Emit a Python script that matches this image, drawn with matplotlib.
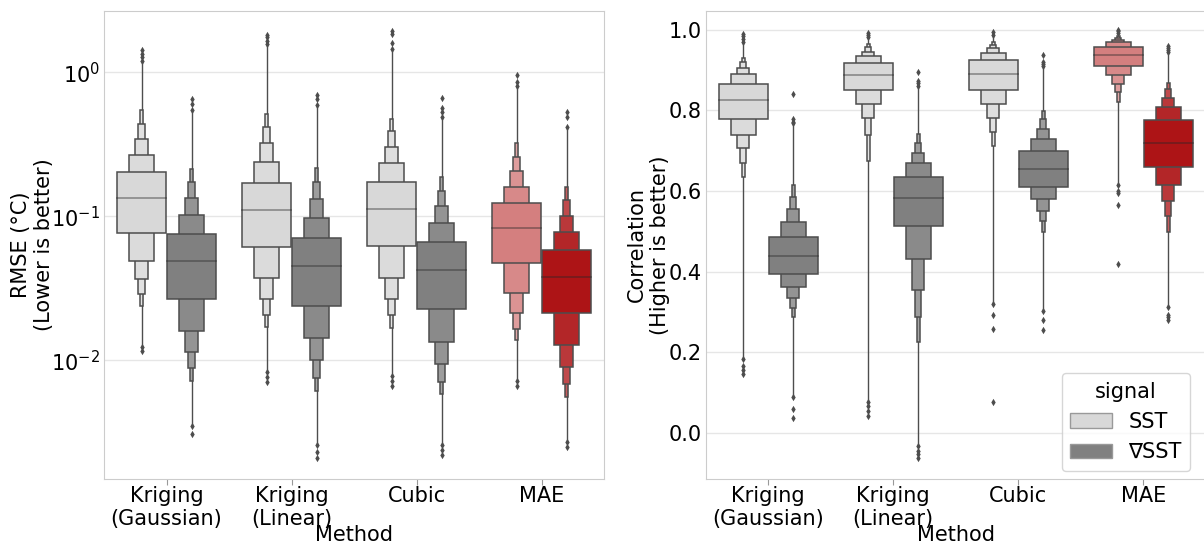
import numpy as np
import matplotlib
matplotlib.use("Agg")
import matplotlib.pyplot as plt
from matplotlib.colors import to_rgb
from matplotlib.patches import Patch
from matplotlib.ticker import NullLocator

methods = ["Kriging\n(Gaussian)", "Kriging\n(Linear)", "Cubic", "MAE"]
signals = ["SST", "\u2207SST"]

# RMSE panel, letter values (inner box -> outer boxes)
rmse_sst_median = [0.135, 0.110, 0.112, 0.083]
rmse_sst_lower = [[0.0766, 0.049, 0.0366, 0.0288, 0.024],
                  [0.0612, 0.0372, 0.0268, 0.0206, 0.0171],
                  [0.0619, 0.0372, 0.0268, 0.0206, 0.0169],
                  [0.0478, 0.0294, 0.0213, 0.0166, 0.0139]]
rmse_sst_upper = [[0.202, 0.268, 0.346, 0.44, 0.545],
                  [0.170, 0.237, 0.322, 0.416, 0.518],
                  [0.172, 0.234, 0.301, 0.389, 0.476],
                  [0.123, 0.161, 0.206, 0.26, 0.322]]
rmse_sst_tail = [(0.0123, 1.2), (0.0083, 1.58), (0.0078, 1.45), (0.0072, 0.787)]
rmse_sst_fliers = [[1.2, 1.28, 1.35, 1.42, 0.0123, 0.0117],
                   [1.58, 1.65, 1.75, 1.82, 0.0083, 0.0077, 0.0071],
                   [1.45, 1.6, 1.85, 1.95, 0.0078, 0.0072, 0.0066],
                   [0.81, 0.86, 0.96, 0.0072, 0.0066]]

rmse_grad_median = [0.0492, 0.045, 0.0426, 0.038]
rmse_grad_lower = [[0.0265, 0.016, 0.0115, 0.00885, 0.0072],
                   [0.024, 0.0143, 0.010, 0.0076, 0.0061],
                   [0.0229, 0.0135, 0.0094, 0.0071, 0.0058],
                   [0.0212, 0.0127, 0.009, 0.00687, 0.0056]]
rmse_grad_upper = [[0.0752, 0.102, 0.134, 0.173, 0.215],
                   [0.0704, 0.0978, 0.1316, 0.173, 0.218],
                   [0.0662, 0.0899, 0.1177, 0.151, 0.189],
                   [0.0585, 0.0778, 0.100, 0.129, 0.160]]
rmse_grad_tail = [(0.0035, 0.53), (0.0026, 0.594), (0.0026, 0.49), (0.0027, 0.42)]
rmse_grad_fliers = [[0.55, 0.6, 0.65, 0.0035, 0.0031],
                    [0.594, 0.65, 0.70, 0.0026, 0.0023, 0.0021],
                    [0.49, 0.53, 0.57, 0.665, 0.0026, 0.0024, 0.0022],
                    [0.42, 0.49, 0.53, 0.0027, 0.0025]]

# Correlation panel
corr_sst_median = [0.825, 0.887, 0.891, 0.938]
corr_sst_lower = [[0.778, 0.740, 0.706, 0.670, 0.635],
                  [0.850, 0.815, 0.780, 0.740, 0.675],
                  [0.850, 0.815, 0.780, 0.747, 0.711],
                  [0.911, 0.887, 0.865, 0.845, 0.822]]
corr_sst_upper = [[0.865, 0.890, 0.906, 0.920, 0.930],
                  [0.917, 0.934, 0.946, 0.957, 0.965],
                  [0.924, 0.942, 0.954, 0.963, 0.970],
                  [0.958, 0.969, 0.976, 0.981, 0.984]]
corr_sst_tail = [(0.184, 0.971), (0.0755, 0.983), (0.32, 0.987), (0.614, 0.991)]
corr_sst_fliers = [[0.971, 0.978, 0.984, 0.989, 0.184, 0.165, 0.155, 0.145],
                   [0.983, 0.987, 0.991, 0.0755, 0.065, 0.055, 0.041],
                   [0.987, 0.994, 0.32, 0.293, 0.258, 0.077],
                   [0.991, 0.996, 1.0, 0.614, 0.60, 0.594, 0.566, 0.418]]

corr_grad_median = [0.438, 0.582, 0.655, 0.720]
corr_grad_lower = [[0.393, 0.362, 0.334, 0.310, 0.288],
                   [0.512, 0.431, 0.355, 0.288, 0.225],
                   [0.611, 0.579, 0.550, 0.525, 0.499],
                   [0.660, 0.616, 0.576, 0.537, 0.497]]
corr_grad_upper = [[0.485, 0.524, 0.556, 0.585, 0.614],
                   [0.634, 0.669, 0.695, 0.720, 0.741],
                   [0.699, 0.730, 0.755, 0.778, 0.798],
                   [0.775, 0.808, 0.832, 0.852, 0.868]]
corr_grad_tail = [(0.0885, 0.768), (-0.033, 0.861), (0.301, 0.91), (0.3125, 0.944)]
corr_grad_fliers = [[0.768, 0.772, 0.779, 0.841, 0.0885, 0.058, 0.036],
                    [0.861, 0.868, 0.872, 0.896, -0.033, -0.045, -0.052, -0.063],
                    [0.91, 0.915, 0.92, 0.937, 0.301, 0.28, 0.255],
                    [0.944, 0.95, 0.955, 0.96, 0.3125, 0.293, 0.286, 0.28]]

sst_colors = ["#d8d8d8", "#d8d8d8", "#d8d8d8", "#d47f7f"]
grad_colors = ["#808080", "#808080", "#808080", "#ad1416"]
edge = "#4d4d4d"


def boxen(ax, x, med, lows, highs, tail, fliers, color, width=0.392, nlev=12):
    base = np.array(to_rgb(color))
    ax.plot([x, x], tail, color=edge, lw=1.0, zorder=1)
    for j in range(len(lows) - 1, -1, -1):
        f = 0.85 * j / (nlev - 1)
        c = base + (1 - base) * f
        ax.bar(x, highs[j] - lows[j], bottom=lows[j], width=width * 0.5 ** j,
               color=c, edgecolor=edge, linewidth=1.1, zorder=2 + (5 - j))
    ax.plot([x - width / 2, x + width / 2], [med, med], color=".15", alpha=.45,
            lw=1.2, zorder=10)
    ax.scatter([x] * len(fliers), fliers, marker="d", s=14, color=edge, zorder=3,
               linewidths=0)


fig = plt.figure(figsize=(12.04, 5.48), dpi=100)
ax1 = fig.add_axes([0.0864, 0.1259, 0.4153, 0.8549])
ax2 = fig.add_axes([0.5862, 0.1259, 0.4153, 0.8549])

panels = [
    (ax1, rmse_sst_median, rmse_sst_lower, rmse_sst_upper, rmse_sst_tail, rmse_sst_fliers,
     rmse_grad_median, rmse_grad_lower, rmse_grad_upper, rmse_grad_tail, rmse_grad_fliers),
    (ax2, corr_sst_median, corr_sst_lower, corr_sst_upper, corr_sst_tail, corr_sst_fliers,
     corr_grad_median, corr_grad_lower, corr_grad_upper, corr_grad_tail, corr_grad_fliers),
]

ax1.set_yscale("log")
for ax, sm, sl, su, st, sf, gm, gl, gu, gt, gf in panels:
    for i in range(len(methods)):
        boxen(ax, i - 0.2, sm[i], sl[i], su[i], st[i], sf[i], sst_colors[i])
        boxen(ax, i + 0.2, gm[i], gl[i], gu[i], gt[i], gf[i], grad_colors[i])
    ax.set_xlim(-0.5, 3.5)
    ax.set_xticks(range(len(methods)))
    ax.set_xticklabels(methods)
    ax.set_xlabel("Method", fontsize=15, labelpad=-3)
    ax.grid(axis="y", color="#e6e6e6", lw=1)
    ax.set_axisbelow(True)
    ax.tick_params(axis="both", labelsize=15)
    ax.tick_params(axis="y", length=0, pad=3)
    ax.tick_params(axis="x", length=4, color="#999999", pad=1)
    for s in ax.spines.values():
        s.set_color("#cccccc")

ax1.set_ylim(0.0015, 2.69)
ax1.yaxis.set_minor_locator(NullLocator())
ax1.set_yticks([0.01, 0.1, 1.0])
ax1.set_ylabel("RMSE (\u00b0C)\n(Lower is better)", fontsize=15, labelpad=-2)

ax2.set_ylim(-0.115, 1.048)
ax2.set_yticks([0.0, 0.2, 0.4, 0.6, 0.8, 1.0])
ax2.set_ylabel("Correlation\n(Higher is better)", fontsize=15, labelpad=-1)

handles = [Patch(facecolor="#d8d8d8", edgecolor="#999999", label=signals[0]),
           Patch(facecolor="#808080", edgecolor="#999999", label=signals[1])]
ax2.legend(handles=handles, title="signal", loc="lower right", fontsize=15,
           title_fontsize=15, bbox_to_anchor=(0.985, 0.0), borderaxespad=0.4)

fig.savefig("out.png", dpi=100)
